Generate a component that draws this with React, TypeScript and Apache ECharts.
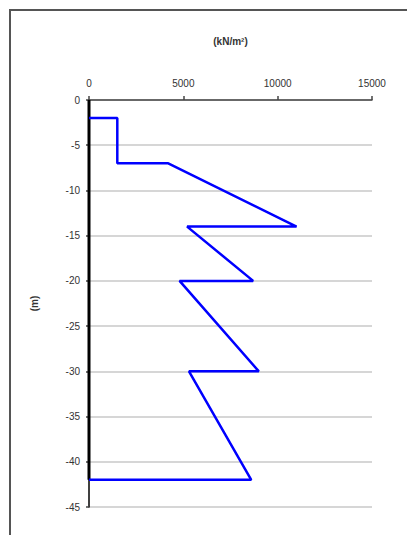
import React, { useEffect, useRef } from "react";
import * as echarts from "echarts";

const pressure = [0, 1500, 1500, 4200, 11000, 5200, 8700, 4800, 9000, 5300, 8600, 0];
const depth = [-2, -2, -7, -7, -14, -14, -20, -20, -30, -30, -42, -42];
const wallX = [0, 0];
const wallDepth = [0, -42];
const xTicks = [0, 5000, 10000, 15000];
const yTicks = [0, -5, -10, -15, -20, -25, -30, -35, -40, -45];
const xName = "(kN/m²)";
const yName = "(m)";

export default function App() {
  const ref = useRef<HTMLDivElement>(null);
  useEffect(() => {
    if (!ref.current) return;
    const chart = echarts.init(ref.current, undefined, { renderer: "svg" });
    const font = "Liberation Sans, Arial, sans-serif";
    chart.setOption({
      animation: false,
      backgroundColor: "#fff",
      graphic: [
        {
          type: "rect",
          shape: { x: 10, y: 10, width: 420, height: 560 },
          style: { fill: "none", stroke: "#555", lineWidth: 2 },
          silent: true,
        },
      ],
      grid: { left: 89, right: 35, top: 100, bottom: 28, containLabel: false },
      xAxis: {
        type: "value",
        position: "top",
        min: xTicks[0],
        max: xTicks[xTicks.length - 1],
        interval: xTicks[1] - xTicks[0],
        name: xName,
        nameLocation: "middle",
        nameGap: 54,
        nameTextStyle: { fontFamily: font, fontSize: 10, color: "#333", fontWeight: "bold" },
        axisLine: { show: true, onZero: false, lineStyle: { color: "#444", width: 1.5 } },
        axisTick: { show: true, length: 4, lineStyle: { color: "#444", width: 1.5 } },
        axisLabel: {
          fontFamily: font,
          fontSize: 10,
          color: "#333",
          margin: 12,
          formatter: (v: number) => String(v),
        },
        splitLine: { show: false },
      },
      yAxis: {
        type: "value",
        min: yTicks[yTicks.length - 1],
        max: yTicks[0],
        interval: 5,
        name: yName,
        nameLocation: "middle",
        nameRotate: 90,
        nameGap: 50,
        nameTextStyle: { fontFamily: font, fontSize: 10, color: "#333", fontWeight: "bold" },
        axisLine: { show: true, onZero: false, lineStyle: { color: "#000", width: 1.5 } },
        axisTick: { show: true, length: 3, lineStyle: { color: "#444", width: 1.5 } },
        axisLabel: {
          fontFamily: font,
          fontSize: 10,
          color: "#333",
          margin: 9,
          formatter: (v: number) => String(v),
        },
        splitLine: { show: true, lineStyle: { color: "#c8c8c8", width: 1.5 } },
      },
      series: [
        {
          type: "line",
          data: wallX.map((x, i) => [x, wallDepth[i]]),
          showSymbol: false,
          symbol: "none",
          lineStyle: { color: "#000", width: 3 },
          z: 3,
        },
        {
          type: "line",
          data: pressure.map((x, i) => [x, depth[i]]),
          showSymbol: false,
          symbol: "none",
          lineStyle: { color: "#0000ff", width: 2.5 },
          z: 4,
        },
      ],
    });
    return () => chart.dispose();
  }, []);
  return (
    <div
      ref={ref}
      style={{ position: "absolute", left: 0, top: 0, width: 407, height: 535 }}
    />
  );
}
